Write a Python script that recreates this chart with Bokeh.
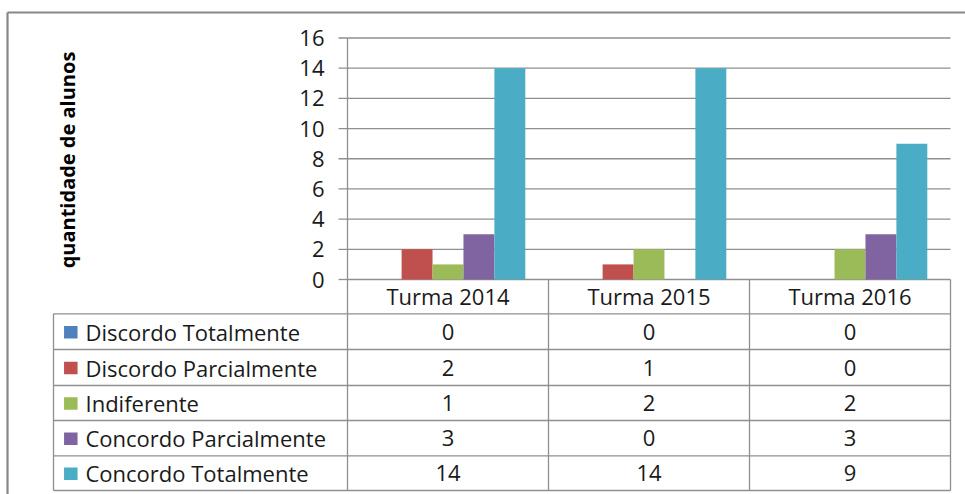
import math
from bokeh.plotting import figure
from bokeh.models import Range1d
from bokeh.core.properties import value
from bokeh.embed import file_html
from bokeh.resources import INLINE

# ---------------- data ----------------
categories = ["Turma 2014", "Turma 2015", "Turma 2016"]
series_names = ["Discordo Totalmente", "Discordo Parcialmente", "Indiferente",
                "Concordo Parcialmente", "Concordo Totalmente"]
discordo_totalmente = [0, 0, 0]
discordo_parcialmente = [2, 1, 0]
indiferente = [1, 2, 2]
concordo_parcialmente = [3, 0, 3]
concordo_totalmente = [14, 14, 9]
series_values = [discordo_totalmente, discordo_parcialmente, indiferente,
                 concordo_parcialmente, concordo_totalmente]
colors = ["#4F81BD", "#C0504D", "#9BBB59", "#8064A2", "#4BACC6"]
y_ticks = [0, 2, 4, 6, 8, 10, 12, 14, 16]
y_label = "quantidade de alunos"

# ---------------- layout (pixels) ----------------
W, H = 965, 494
AX_LEFT, AX_RIGHT = 347.0, 950.0     # plot area horizontal extent
AX_TOP, AX_BOTTOM = 37.5, 279.0      # y=16 and y=0
Y_MAX = 16.0
PX_PER_CAT = (AX_RIGHT - AX_LEFT) / len(categories)
PX_PER_UNIT = (AX_BOTTOM - AX_TOP) / Y_MAX

def X(px):
    return (px - AX_LEFT) / PX_PER_CAT

def Y(py):
    return (AX_BOTTOM - py) / PX_PER_UNIT

TABLE_LEFT = 53.0
ROW_LINES = [313.3, 349.0, 385.0, 420.0, 455.3, 490.0]
HEADER_MID = 295.5
LINE_COLOR = "#8f8f8f"
TEXT_COLOR = "#1a1a1a"
FONT = value("Open Sans")
FS = "22px"

p = figure(width=W, height=H, title=None,
           x_range=Range1d(X(0), X(W)), y_range=Range1d(Y(H), Y(0)),
           x_axis_location=None, y_axis_location=None,
           min_border=0, toolbar_location=None, output_backend="svg")
p.outline_line_color = None
p.background_fill_color = "white"
p.border_fill_color = "white"
p.xgrid.visible = False
p.ygrid.visible = False

# outer chart border (left and top edges visible)
p.segment(x0=[X(7), X(7)], y0=[Y(12), Y(12)], x1=[X(7), X(W + 10)], y1=[Y(H + 10), Y(12)],
          line_color="#878787", line_width=2.2)

# gridlines + ticks
n = len(categories)
p.segment(x0=[0] * len(y_ticks), y0=y_ticks, x1=[n] * len(y_ticks), y1=y_ticks,
          line_color=LINE_COLOR, line_width=1.3)
p.segment(x0=[X(338)] * len(y_ticks), y0=y_ticks, x1=[0] * len(y_ticks), y1=y_ticks,
          line_color=LINE_COLOR, line_width=1.3)
p.text(x=[X(324)] * len(y_ticks), y=y_ticks, text=[str(t) for t in y_ticks],
       text_align="right", text_baseline="middle", text_font=FONT,
       text_font_size=FS, text_color=TEXT_COLOR)

# bars (Excel gap width 150%)
bar_w = 1.0 / (len(series_names) + 1.5)
for s, (vals, col) in enumerate(zip(series_values, colors)):
    xs = [c + 0.5 + (s - (len(series_names) - 1) / 2) * bar_w for c in range(n)]
    p.vbar(x=xs, top=vals, bottom=0, width=bar_w, fill_color=col, line_color=None)

# y axis line and category separators through the table
p.segment(x0=list(range(n + 1)), y0=[Y_MAX] + [0] * n, x1=list(range(n + 1)),
          y1=[Y(ROW_LINES[-1])] * (n + 1), line_color=LINE_COLOR, line_width=1.3)

# table lines
p.segment(x0=[X(TABLE_LEFT)] * len(ROW_LINES), y0=[Y(r) for r in ROW_LINES],
          x1=[n] * len(ROW_LINES), y1=[Y(r) for r in ROW_LINES],
          line_color=LINE_COLOR, line_width=1.3)
p.segment(x0=[X(TABLE_LEFT)], y0=[Y(ROW_LINES[0])], x1=[X(TABLE_LEFT)], y1=[Y(ROW_LINES[-1])],
          line_color=LINE_COLOR, line_width=1.3)

# header labels
p.text(x=[c + 0.5 for c in range(n)], y=[Y(HEADER_MID)] * n, text=categories,
       text_align="center", text_baseline="middle", text_font=FONT,
       text_font_size=FS, text_color=TEXT_COLOR)

# rows
row_mid = [Y((ROW_LINES[i] + ROW_LINES[i + 1]) / 2) for i in range(len(series_names))]
p.rect(x=[X(70.3)] * len(series_names), y=[r - 0.5 / PX_PER_UNIT for r in row_mid],
       width=13.5, height=12.5, width_units="screen", height_units="screen",
       fill_color=colors, line_color=None)
p.text(x=[X(85)] * len(series_names), y=row_mid, text=series_names,
       text_align="left", text_baseline="middle", text_font=FONT,
       text_font_size=FS, text_color=TEXT_COLOR)
for s, vals in enumerate(series_values):
    p.text(x=[c + 0.5 for c in range(n)], y=[row_mid[s]] * n, text=[str(v) for v in vals],
           text_align="center", text_baseline="middle", text_font=FONT,
           text_font_size=FS, text_color=TEXT_COLOR)

# y axis title
p.text(x=[X(67)], y=[Y(159.5)], text=[y_label], angle=math.pi / 2,
       text_align="center", text_baseline="middle", text_font=FONT,
       text_font_style="bold", text_font_size="20px", text_color="#000000")

open("out.html", "w").write(file_html(p, INLINE))
